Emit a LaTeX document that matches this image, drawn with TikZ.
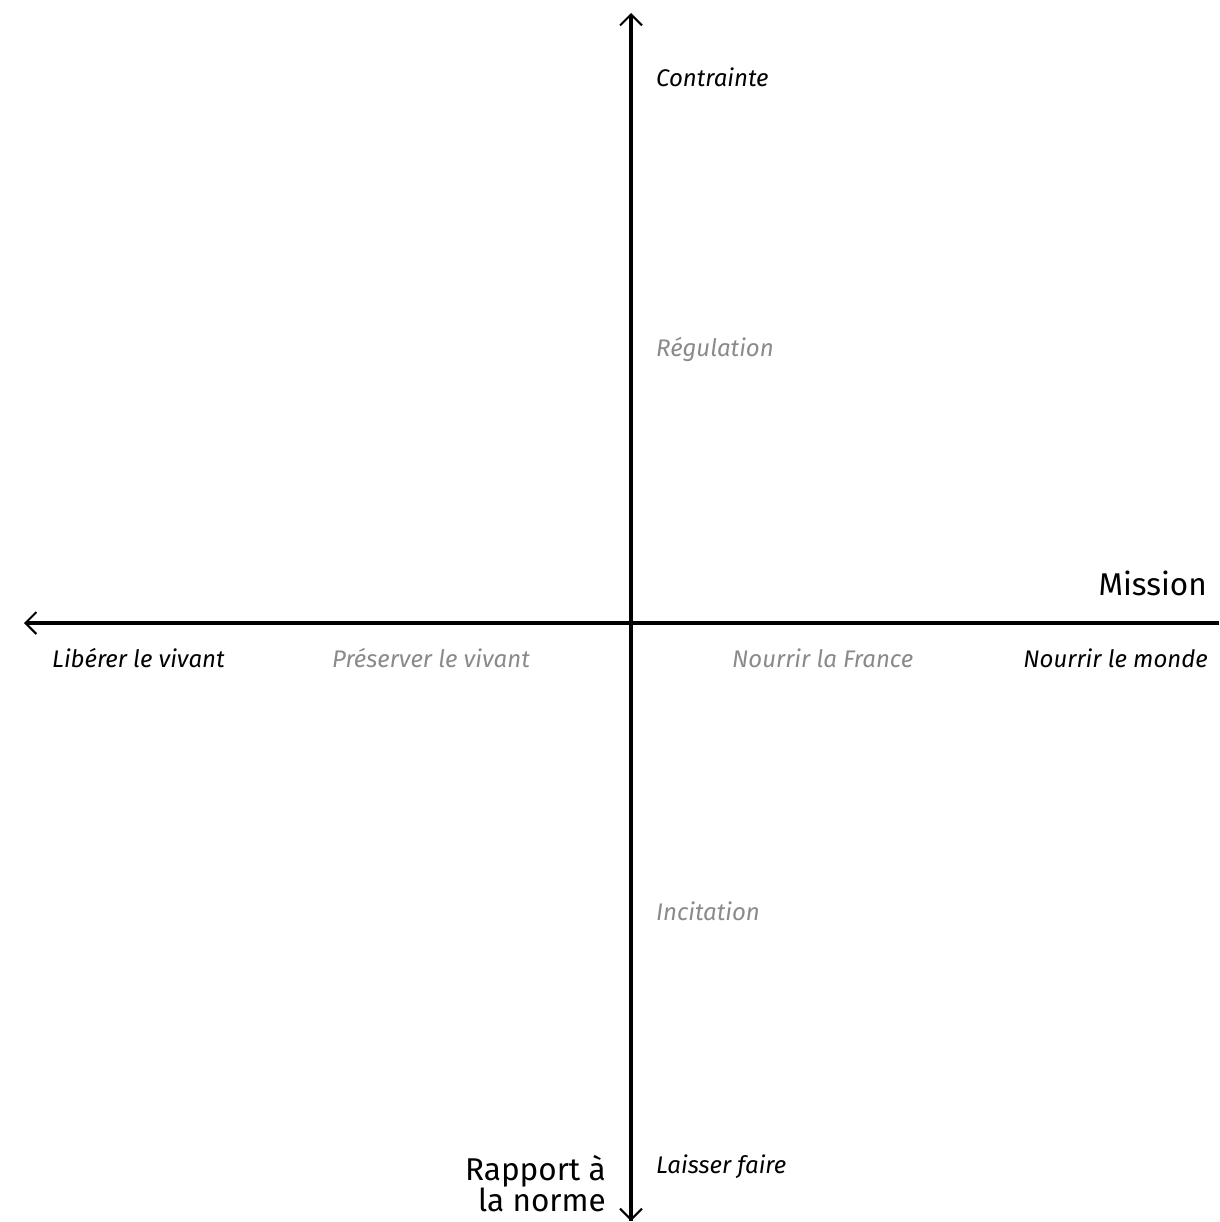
\documentclass[tikz,border=0pt]{standalone}
\usepackage{fontspec}
\setmainfont{Fira Sans}
\usetikzlibrary{arrows.meta}
\definecolor{lightgray}{HTML}{8A8A8A}
\begin{document}
\begin{tikzpicture}[x=1pt,y=-1pt,
  axis/.style={line width=4.5pt},
  pole/.style={font=\fontsize{24}{27}\selectfont\itshape, inner sep=0pt},
  mid/.style={pole, text=lightgray},
  title/.style={font=\fontsize{31.5}{31}\selectfont, inner sep=0pt}]
\useasboundingbox (0,0) rectangle (1219,1222);
\coordinate (top) at (631,13);
\coordinate (bottom) at (631,1221);
\coordinate (origin) at (631,623);
\coordinate (left) at (24,623);
\coordinate (right) at (1219,623);
\draw[axis,-{Straight Barb[length=11pt,width=22pt,line width=2pt]}] (bottom) -- (top);
\draw[axis,-{Straight Barb[length=11pt,width=22pt,line width=2pt]}] (origin) -- (bottom);
\draw[axis,-{Straight Barb[length=11pt,width=22pt,line width=2pt]}] (right) -- (left);
\node[pole, anchor=west] (contrainte) at (656,77) {Contrainte};
\node[mid, anchor=west] (regulation) at (656,349) {Régulation};
\node[mid, anchor=west] (incitation) at (656,911) {Incitation};
\node[pole, anchor=west] (laisser) at (656,1167) {Laisser faire};
\node[pole, anchor=west] (liberer) at (52,658) {Libérer le vivant};
\node[mid, anchor=west] (preserver) at (332,658) {Préserver le vivant};
\node[mid, anchor=west] (france) at (732,658) {Nourrir la France};
\node[pole, anchor=east] (monde) at (1208,658) {Nourrir le monde};
\node[title, anchor=east] (mission) at (1207,583) {Mission};
\node[title, anchor=east, align=right] (rapport) at (606,1184) {Rapport à\\la norme};
\end{tikzpicture}
\end{document}
